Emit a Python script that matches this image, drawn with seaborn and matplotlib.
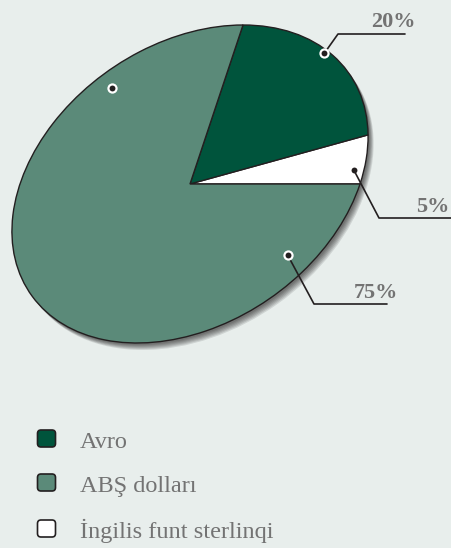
import numpy as np
import matplotlib.pyplot as plt
import seaborn as sns
from matplotlib.transforms import Affine2D
from matplotlib.patches import Circle, FancyBboxPatch

# data
labels = ["Avro", "ABŞ dolları", "İngilis funt sterlinqi"]
shares = [20, 75, 5]
pct_labels = ["20%", "75%", "5%"]
colors = ["#00543c", "#5b8a79", "#ffffff"]

bg = "#e8eeec"
sns.set_theme(style="white", rc={"figure.facecolor": bg, "axes.facecolor": bg})
plt.rcParams["font.family"] = ["Liberation Serif", "DejaVu Serif"]

fig = plt.figure(figsize=(4.51, 5.48), dpi=100)
ax = fig.add_axes([0, 0, 1, 1])

# unit circle -> tilted ellipse in pixel space
tilt = Affine2D(np.array([[170.0, 53.0, 190.0], [0.0, -159.0, 184.0], [0.0, 0.0, 1.0]]))

# soft shadow down-right
for d in [7, 6, 5, 4, 3, 2]:
    c = Circle((0, 0), 1, facecolor="black", edgecolor="none", alpha=0.11)
    c.set_transform(tilt + Affine2D().translate(d * 0.8, d) + ax.transData)
    ax.add_patch(c)

# white slice first, starting at 3 o'clock
order = [2, 0, 1]
wedges, _ = ax.pie([shares[i] for i in order], colors=[colors[i] for i in order],
                   startangle=0, counterclock=True,
                   wedgeprops=dict(edgecolor="#231f20", linewidth=1.0))
for w in wedges:
    w.set_transform(tilt + ax.transData)

ax.set_autoscale_on(False)
ax.set_xlim(0, 451)
ax.set_ylim(548, 0)
ax.set_aspect("auto")
ax.axis("off")

# leader dots / lines / labels (angle, radius in the unit pie)
dot_at = [(57, 0.98), (328, 0.84), (5.4, 0.94)]
elbow = [(338, 34, 405), (314, 304, 387), (379, 218, 451)]
txt_at = [(393, 27), (376, 298), (433, 212)]
for (ang, r), (ex, ey, ex2), (tx, ty), lab, col in zip(dot_at, elbow, txt_at, pct_labels, colors):
    px, py = tilt.transform((r * np.cos(np.radians(ang)), r * np.sin(np.radians(ang))))
    ax.plot([px, ex, ex2], [py, ey, ey], color="#231f20", lw=1.2, zorder=5)
    if col != "#ffffff":
        ax.scatter(px, py, s=55, color="white", zorder=6, linewidths=0)
    ax.scatter(px, py, s=18, color="#231f20", zorder=7, linewidths=0)
    ax.text(tx, ty, lab, ha="center", va="baseline", fontsize=16,
            fontweight="bold", color="#737373")

# stray marker in the big slice
px, py = tilt.transform((0.885 * np.cos(np.radians(137)), 0.885 * np.sin(np.radians(137))))
ax.scatter(px, py, s=55, color="white", zorder=6, linewidths=0)
ax.scatter(px, py, s=18, color="#231f20", zorder=7, linewidths=0)

# legend
leg_y = [448, 492, 538]
for lab, col, y in zip(labels, colors, leg_y):
    box = FancyBboxPatch((37.5, y - 18), 18, 17, boxstyle="round,pad=0,rounding_size=3.5",
                         facecolor=col, edgecolor="#231f20", linewidth=1.2)
    ax.add_patch(box)
    ax.text(80, y, lab, ha="left", va="baseline", fontsize=17.5, color="#737373")

fig.savefig("out.png", dpi=100, facecolor=bg)
